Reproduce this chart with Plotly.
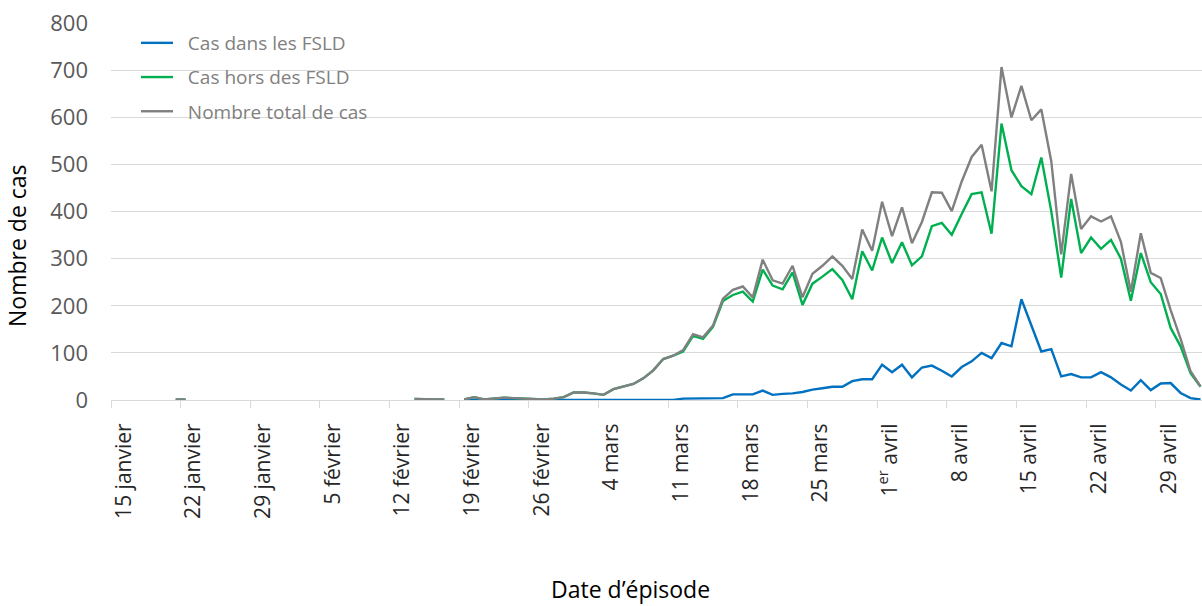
import pandas as pd
import plotly.graph_objects as go

# ---------------- data ----------------
start_date = "2020-01-15"
end_date = "2020-05-03"

N = None
# Cas dans les FSLD (daily), Jan 15 .. May 3
cas_fsld = (
    [N] * 35 +
    [0] * 22 +
    [3, 3, 3, 3, 4, 12, 12, 12, 20, 11, 13, 14, 17, 22, 25, 28, 28, 40, 44, 44,
     75, 59, 75, 48, 69, 73, 62, 50, 70, 82, 100, 89, 121, 114, 214, 160, 103, 108,
     50, 55, 48, 48, 59, 48, 33, 20, 42, 21, 35, 36, 15, 4, 1]
)

# Cas hors des FSLD
cas_hors = (
    [N] * 6 + [1, 1] + [N] * 22 + [2, 1, 1, 1] + [N] +
    [1, 6, 1, 3, 5, 4, 3, 3, 1, 3, 6, 16, 16, 14, 11, 23, 29, 34, 46, 63, 87, 94,
     103, 136, 130, 155, 210, 223, 230, 209, 277, 243, 235, 271, 202, 247, 262, 278,
     255, 214, 316, 275, 345, 291, 335, 286, 305, 369, 376, 351, 395, 437, 441, 353,
     587, 488, 454, 437, 515, 401, 260, 427, 312, 345, 321, 340, 300, 211, 312, 250,
     225, 153, 114, 57, 28]
)

# Nombre total de cas
cas_total = (
    [N] * 6 + [1, 1] + [N] * 22 + [2, 1, 1, 1] + [N] +
    [1, 6, 1, 3, 5, 4, 3, 3, 1, 3, 6, 16, 16, 14, 11, 23, 29, 34, 46, 63, 87, 94,
     106, 140, 133, 158, 215, 234, 241, 218, 298, 254, 247, 285, 218, 268, 285, 305,
     285, 257, 362, 317, 421, 348, 409, 333, 378, 441, 440, 401, 464, 516, 542, 443,
     707, 600, 667, 594, 617, 507, 309, 480, 363, 390, 379, 390, 336, 230, 354, 270,
     259, 191, 130, 61, 29]
)

tick_dates = ["2020-01-15", "2020-01-22", "2020-01-29", "2020-02-05", "2020-02-12",
              "2020-02-19", "2020-02-26", "2020-03-04", "2020-03-11", "2020-03-18",
              "2020-03-25", "2020-04-01", "2020-04-08", "2020-04-15", "2020-04-22",
              "2020-04-29"]
tick_labels = ["15 janvier", "22 janvier", "29 janvier", "5 février", "12 février",
               "19 février", "26 février", "4 mars", "11 mars", "18 mars", "25 mars",
               "1<sup>er</sup> avril", "8 avril", "15 avril", "22 avril", "29 avril"]

y_ticks = [0, 100, 200, 300, 400, 500, 600, 700, 800]

series_names = ["Cas dans les FSLD", "Cas hors des FSLD", "Nombre total de cas"]
series_colors = ["#0070C0", "#00B050", "#808080"]

# ---------------- figure ----------------
dates = pd.date_range(start_date, end_date, freq="D")
half_day = pd.Timedelta(hours=12)
# category boundaries (tick marks sit between days, as in the source)
tick_pos = [pd.Timestamp(d) - half_day for d in tick_dates]

LEGEND_PAD = "\u00a0\u00a0"  # extra gap between legend line and its text

fig = go.Figure()
for name, vals, col in zip(series_names, [cas_fsld, cas_hors, cas_total], series_colors):
    fig.add_trace(go.Scatter(
        x=dates, y=vals, name=LEGEND_PAD + name, mode="lines",
        line=dict(color=col, width=2.4),
        connectgaps=False, legendgroup=name,
        hovertemplate=name + "<br>%{x|%d %b}: %{y}<extra></extra>",
    ))

FONT = "Open Sans"
W, H = 1202, 606
ML, MR, MT, MB = 111, 0, 23, 206
pw = W - ML - MR
ph = H - MT - MB

def px_x(x):
    return (x - ML) / pw

def px_y(y):
    return (H - MB - y) / ph

fig.update_layout(
    width=W, height=H,
    margin=dict(l=ML, r=MR, t=MT, b=MB, pad=0),
    paper_bgcolor="white", plot_bgcolor="white",
    font=dict(family=FONT, color="#595959"),
    showlegend=True,
    legend=dict(
        x=px_x(136), y=px_y(24), xanchor="left", yanchor="top",
        bgcolor="rgba(0,0,0,0)", borderwidth=0,
        font=dict(family=FONT, size=19, color="#808080"),
        traceorder="grouped", tracegroupgap=6.5,
        itemwidth=32,
    ),
    shapes=[dict(
        type="rect", xref="paper", yref="paper", layer="between",
        x0=px_x(173), x1=px_x(457), y0=px_y(128), y1=px_y(14),
        fillcolor="white", line=dict(width=0),
    )],
    annotations=[
        dict(text="Nombre de cas", xref="paper", yref="paper",
             x=px_x(17), y=px_y(246), textangle=-90, showarrow=False,
             xanchor="center", yanchor="middle",
             font=dict(family=FONT, size=23, color="#000000")),
        dict(text="Date d’épisode", xref="paper", yref="paper",
             x=px_x(630), y=px_y(589), showarrow=False,
             xanchor="center", yanchor="middle",
             font=dict(family=FONT, size=23, color="#000000")),
    ],
)

fig.update_xaxes(
    type="date",
    range=[pd.Timestamp(start_date) - half_day, pd.Timestamp(end_date) + pd.Timedelta(hours=3.6)],
    tickmode="array", tickvals=tick_pos, ticktext=tick_labels,
    tickangle=-90, ticks="outside", ticklen=7, tickcolor="#D9D9D9", tickwidth=1,
    ticklabelshift=13, ticklabelstandoff=7,
    tickfont=dict(family=FONT, size=21, color="#262626"),
    showline=True, linecolor="#D9D9D9", linewidth=1,
    showgrid=False, zeroline=False,
)

fig.update_yaxes(
    range=[0, 800.5],
    tickmode="array", tickvals=y_ticks,
    ticks="", showline=False, zeroline=False,
    showgrid=True, gridcolor="#D9D9D9", gridwidth=1,
    ticklabelstandoff=22,
    tickfont=dict(family=FONT, size=22, color="#595959"),
)

fig.write_html(
    "out.html",
    config={"displayModeBar": False},
    post_script="document.body.style.margin='0';document.body.style.overflow='hidden';",
)
